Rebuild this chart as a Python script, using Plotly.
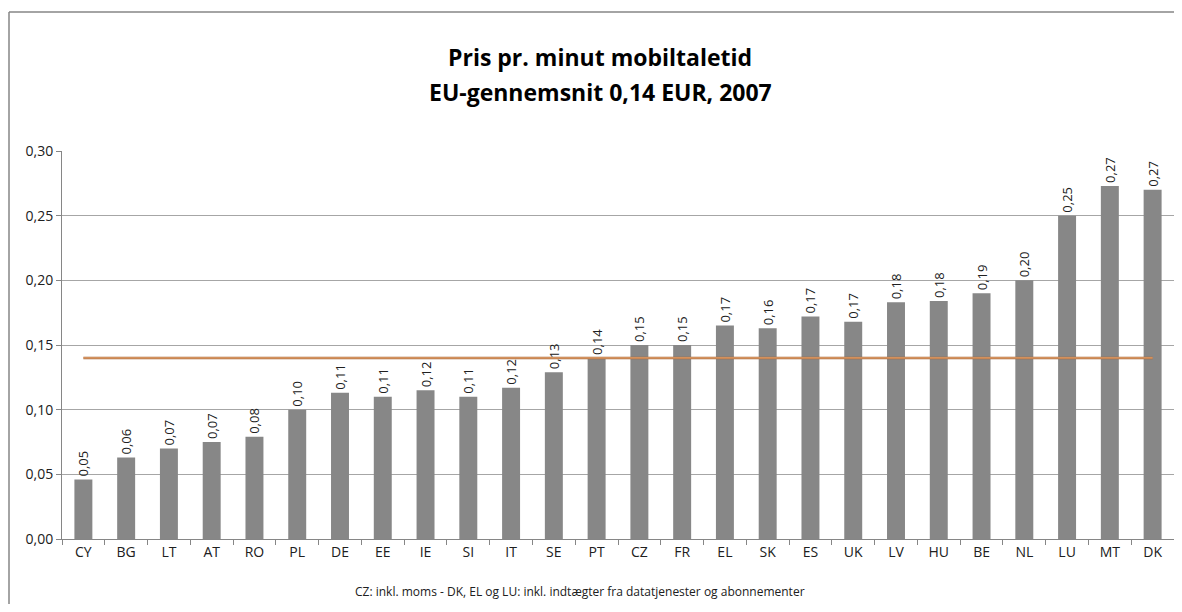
import plotly.graph_objects as go

countries = ["CY", "BG", "LT", "AT", "RO", "PL", "DE", "EE", "IE", "SI", "IT", "SE", "PT",
             "CZ", "FR", "EL", "SK", "ES", "UK", "LV", "HU", "BE", "NL", "LU", "MT", "DK"]
prices = [0.046, 0.063, 0.070, 0.075, 0.079, 0.100, 0.113, 0.110, 0.115, 0.110, 0.117, 0.129, 0.140,
          0.150, 0.150, 0.165, 0.163, 0.172, 0.168, 0.183, 0.184, 0.190, 0.200, 0.250, 0.273, 0.270]
eu_average = 0.14
title_lines = ["Pris pr. minut mobiltaletid", "EU-gennemsnit 0,14 EUR, 2007"]
footnote = "CZ: inkl. moms - DK, EL og LU: inkl. indtægter fra datatjenester og abonnementer"

FONT = "Open Sans, sans-serif"

labels = [f"{v:.2f}".replace(".", ",") for v in prices]

# figure size chosen so the page (8px body margin) does not overflow the window
W, H = 1166, 596
# plot area in figure pixels (page coords minus the 8px body offset)
L, R, T, B = 54, 1166, 143, 531
PW, PH = R - L, B - T

def px(x):
    return (x - L) / PW

def py(y):
    return (B - y) / PH

fig = go.Figure()
fig.add_trace(go.Bar(
    x=countries, y=prices, marker=dict(color="#878787", line=dict(width=0)),
    text=labels, textposition="outside", textangle=-90, constraintext="none",
    textfont=dict(family=FONT, size=13, color="#202020"),
    cliponaxis=False, showlegend=False, hoverinfo="x+y",
))
fig.add_trace(go.Scatter(
    x=countries, y=[eu_average] * len(countries), mode="lines",
    line=dict(color="#A8683A", width=2.5), showlegend=False, hoverinfo="skip",
))
fig.add_trace(go.Scatter(
    x=countries, y=[eu_average] * len(countries), mode="lines",
    line=dict(color="#F2B07A", width=1), showlegend=False, hoverinfo="y",
))

fig.update_layout(
    width=W, height=H,
    margin=dict(l=L, r=W - R, t=T, b=H - B),
    paper_bgcolor="white", plot_bgcolor="white",
    separators=",.",
    bargap=0.58,
    font=dict(family=FONT, size=14, color="#202020"),
    xaxis=dict(
        type="category", showgrid=False, showline=True, linecolor="#868686", linewidth=1,
        ticks="outside", tickson="boundaries", ticklen=5, tickcolor="#868686",
        tickfont=dict(family=FONT, size=14, color="#202020"), automargin=False,
    ),
    yaxis=dict(
        range=[0, 0.30], dtick=0.05, tickformat=".2f",
        showgrid=True, gridcolor="#A6A6A6", gridwidth=1,
        showline=True, linecolor="#868686", linewidth=1,
        ticks="outside", ticklen=5, tickcolor="#868686",
        tickfont=dict(family=FONT, size=14, color="#202020"),
        zeroline=False, automargin=False,
    ),
    shapes=[
        dict(type="line", xref="paper", yref="paper",
             x0=px(1), x1=px(1), y0=py(H + 20), y1=py(4),
             line=dict(color="#868686", width=1.5), layer="below"),
        dict(type="line", xref="paper", yref="paper",
             x0=px(1), x1=px(W + 20), y0=py(4), y1=py(4),
             line=dict(color="#868686", width=1.5), layer="below"),
    ],
    annotations=[
        dict(text=f"<b>{title_lines[0]}</b>", xref="paper", yref="paper",
             x=px(592), y=py(49), xanchor="center", yanchor="middle",
             showarrow=False, font=dict(family=FONT, size=23, color="#000000")),
        dict(text=f"<b>{title_lines[1]}</b>", xref="paper", yref="paper",
             x=px(592), y=py(84), xanchor="center", yanchor="middle",
             showarrow=False, font=dict(family=FONT, size=23, color="#000000")),
        dict(text=footnote, xref="paper", yref="paper",
             x=px(572), y=py(583), xanchor="center", yanchor="middle",
             showarrow=False, font=dict(family=FONT, size=12, color="#202020")),
    ],
)

fig.write_html("out.html")
